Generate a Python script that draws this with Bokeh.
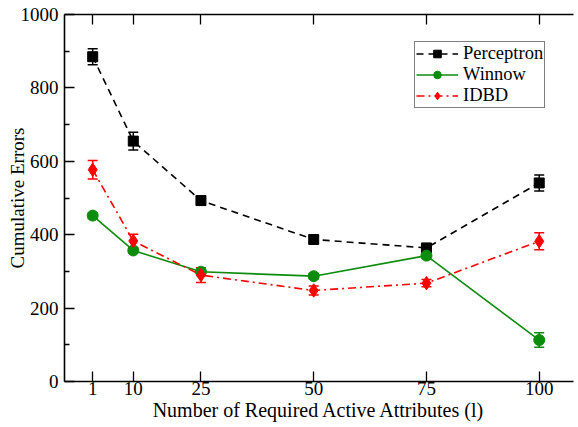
import math
from bokeh.plotting import figure
from bokeh.models import (Range1d, FixedTicker, LinearAxis, Whisker, ColumnDataSource,
                          TeeHead, Legend, LegendItem)
from bokeh.embed import file_html
from bokeh.resources import INLINE

attrs = [1, 10, 25, 50, 75, 100]
perceptron = [885, 655, 493, 387, 364, 541]
perceptron_err = [22, 24, 12, 9, 8, 22]
winnow = [452, 357, 299, 287, 343, 113]
winnow_err = [8, 6, 10, 8, 8, 20]
idbd = [577, 383, 290, 248, 268, 382]
idbd_err = [25, 18, 20, 12, 10, 23]

y_major = [0, 200, 400, 600, 800, 1000]
y_minor = [100, 300, 500, 700, 900]

FONT = "'Liberation Serif', 'Times New Roman', serif"

p = figure(width=574, height=423, x_range=Range1d(-5.25, 107.6), y_range=Range1d(0, 1000),
           output_backend="svg", toolbar_location=None,
           min_border_left=64, min_border_right=1, min_border_top=14, min_border_bottom=0,
           x_axis_label="Number of Required Active Attributes (l)",
           y_axis_label="Cumulative Errors")
p.outline_line_color = None
p.grid.visible = False
p.background_fill_color = "white"
p.border_fill_color = "white"

xt = FixedTicker(ticks=attrs, minor_ticks=[])
yt = FixedTicker(ticks=y_major, minor_ticks=y_minor)

def style(ax, ticker, labels=True):
    ax.ticker = ticker
    ax.axis_line_width = 1.6
    ax.axis_line_color = "black"
    ax.major_tick_in = 10
    ax.major_tick_out = 0
    ax.minor_tick_in = 5
    ax.minor_tick_out = 0
    ax.major_tick_line_color = "black"
    ax.minor_tick_line_color = "black"
    ax.major_tick_line_width = 1.3
    ax.minor_tick_line_width = 1.3
    ax.major_label_text_font = FONT
    ax.major_label_text_font_size = "19px"
    ax.major_label_text_color = "black"
    ax.axis_label_text_font = FONT
    ax.axis_label_text_font_size = "19px"
    ax.axis_label_text_font_style = "normal"
    ax.axis_label_text_color = "black"
    if not labels:
        ax.major_label_text_font_size = "1px"
        ax.major_label_overrides = {t: "" for t in ticker.ticks}
        ax.major_label_standoff = 0

style(p.xaxis[0], xt)
p.xaxis[0].axis_label_text_font_size = "20px"
p.xaxis[0].major_label_standoff = 0
p.xaxis[0].axis_label_standoff = 1
style(p.yaxis[0], yt)
p.yaxis[0].major_label_standoff = 6
p.yaxis[0].axis_label_standoff = -10

top = LinearAxis()
style(top, xt, labels=False)
p.add_layout(top, "above")

series = [
    ("Perceptron", perceptron, perceptron_err, "black", "square", 10),
    ("Winnow", winnow, winnow_err, "#0c8c0c", "circle", 11),
    ("IDBD", idbd, idbd_err, "#ff0000", "diamond", 13.5),
]
dashes = {"Perceptron": "7 5", "Winnow": "solid", "IDBD": "8 4 2 4"}

items = []
for name, vals, errs, color, marker, msize in series:
    src = ColumnDataSource(dict(x=attrs, y=vals,
                                upper=[v + e for v, e in zip(vals, errs)],
                                lower=[v - e for v, e in zip(vals, errs)]))
    lr = p.line("x", "y", source=src, line_color=color, line_width=1.6,
                line_dash=dashes[name])
    w = Whisker(source=src, base="x", upper="upper", lower="lower",
                line_color=color, line_width=1.5,
                upper_head=TeeHead(size=10, line_color=color, line_width=1.5),
                lower_head=TeeHead(size=10, line_color=color, line_width=1.5))
    p.add_layout(w)
    sr = p.scatter("x", "y", source=src, marker=marker, size=msize,
                   fill_color=color, line_color=color)
    items.append(LegendItem(label=name, renderers=[lr, sr]))

legend = Legend(items=items, location=(350, 273))
legend.label_text_font = FONT
legend.label_text_font_size = "18.5px"
legend.label_text_color = "black"
legend.label_text_line_height = 1.0
legend.border_line_color = "black"
legend.border_line_width = 1.2
legend.padding = 1
legend.margin = 0
legend.spacing = 0
legend.glyph_width = 42
legend.glyph_height = 19
legend.label_height = 19
legend.label_standoff = 5
legend.background_fill_alpha = 1
p.add_layout(legend, "center")

open("out.html", "w").write(file_html(p, INLINE))
